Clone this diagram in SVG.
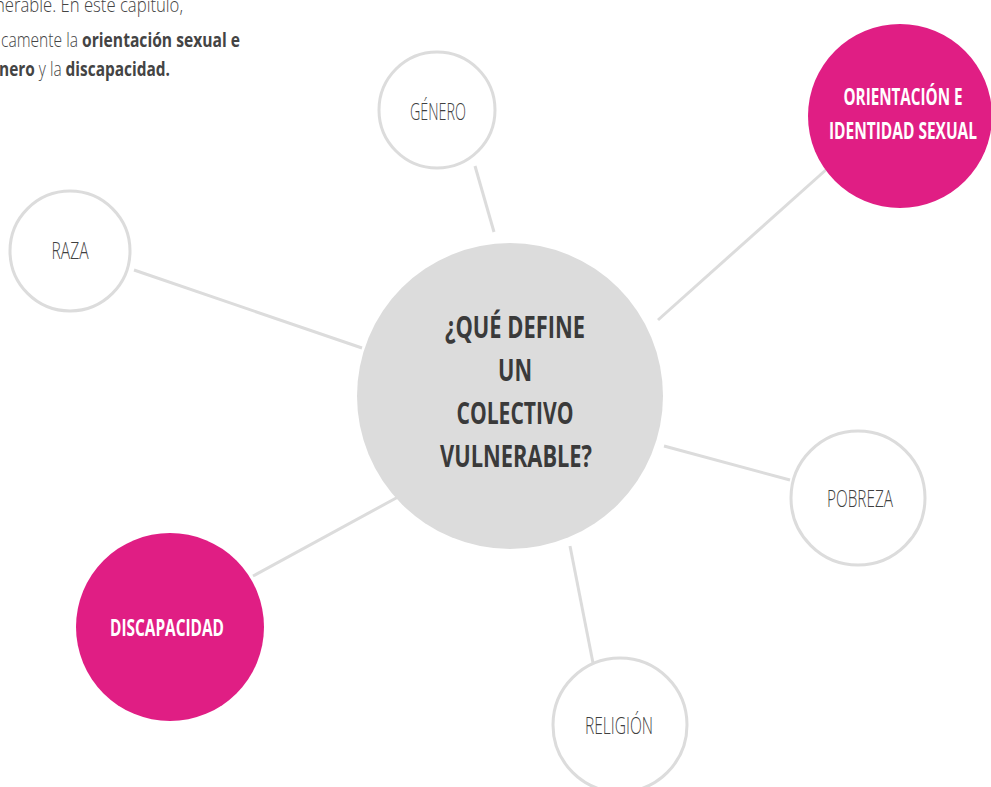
<svg xmlns="http://www.w3.org/2000/svg" width="991" height="787" viewBox="0 0 991 787">
<style>
.bg{fill:#ffffff}
.ring{fill:#ffffff;stroke:#dcdcdc;stroke-width:3}
.pink{fill:#e01e84}
.core{fill:#dcdcdc}
.edge{stroke:#dcdcdc;stroke-width:3;fill:none}
.lbl{font-family:"Open Sans","Liberation Sans",sans-serif;font-weight:300;font-size:24px;fill:#3f3f3f;text-anchor:middle}
.wlbl{font-family:"Open Sans","Liberation Sans",sans-serif;font-weight:700;font-size:24px;fill:#ffffff;text-anchor:middle}
.clbl{font-family:"Open Sans","Liberation Sans",sans-serif;font-weight:700;font-size:31px;fill:#3a3a3a;text-anchor:middle}
.intro{font-family:"Open Sans","Liberation Sans",sans-serif;font-weight:300;font-size:20px;fill:#444444}
.intro .b{font-weight:700}
</style>
<rect class="bg" x="0" y="0" width="991" height="787"/>
<g id="intro">
<text class="intro" x="183" y="12" text-anchor="end" textLength="188" lengthAdjust="spacingAndGlyphs">nerable.  En este capítulo,</text>
<text class="intro" x="1" y="47" textLength="239" lengthAdjust="spacingAndGlyphs">camente la <tspan class="b">orientación sexual e</tspan></text>
<text class="intro" x="-1" y="76" textLength="171" lengthAdjust="spacingAndGlyphs"><tspan class="b">nero</tspan> y la <tspan class="b">discapacidad.</tspan></text>
</g>
<g id="connectors">
<line class="edge" x1="475" y1="166" x2="494" y2="232"/>
<line class="edge" x1="828" y1="168" x2="658" y2="320"/>
<line class="edge" x1="134" y1="270" x2="362" y2="348"/>
<line class="edge" x1="664" y1="446" x2="790" y2="480"/>
<line class="edge" x1="253" y1="576" x2="398" y2="497"/>
<line class="edge" x1="570" y1="546" x2="593" y2="663"/>
</g>
<g id="center">
<circle class="core" cx="510" cy="396" r="153"/>
<text class="clbl" x="515" y="338" textLength="140" lengthAdjust="spacingAndGlyphs">¿QUÉ DEFINE</text>
<text class="clbl" x="515" y="381" textLength="34" lengthAdjust="spacingAndGlyphs">UN</text>
<text class="clbl" x="515" y="424" textLength="117" lengthAdjust="spacingAndGlyphs">COLECTIVO</text>
<text class="clbl" x="516" y="467" textLength="152" lengthAdjust="spacingAndGlyphs">VULNERABLE?</text>
</g>
<g id="genero">
<circle class="ring" cx="437" cy="110" r="58"/>
<text class="lbl" x="438" y="120" textLength="56" lengthAdjust="spacingAndGlyphs">GÉNERO</text>
</g>
<g id="orientacion">
<circle class="pink" cx="900" cy="116" r="92"/>
<text class="wlbl" x="903" y="105" textLength="119" lengthAdjust="spacingAndGlyphs">ORIENTACIÓN E</text>
<text class="wlbl" x="903" y="139" textLength="148" lengthAdjust="spacingAndGlyphs">IDENTIDAD SEXUAL</text>
</g>
<g id="raza">
<circle class="ring" cx="70" cy="251" r="60"/>
<text class="lbl" x="70" y="259" textLength="37" lengthAdjust="spacingAndGlyphs">RAZA</text>
</g>
<g id="pobreza">
<circle class="ring" cx="858" cy="498" r="67"/>
<text class="lbl" x="860" y="507" textLength="66" lengthAdjust="spacingAndGlyphs">POBREZA</text>
</g>
<g id="discapacidad">
<circle class="pink" cx="170" cy="627" r="94"/>
<text class="wlbl" x="167" y="636" textLength="114" lengthAdjust="spacingAndGlyphs">DISCAPACIDAD</text>
</g>
<g id="religion">
<circle class="ring" cx="620" cy="725" r="67"/>
<text class="lbl" x="619" y="734" textLength="68" lengthAdjust="spacingAndGlyphs">RELIGIÓN</text>
</g>
</svg>
